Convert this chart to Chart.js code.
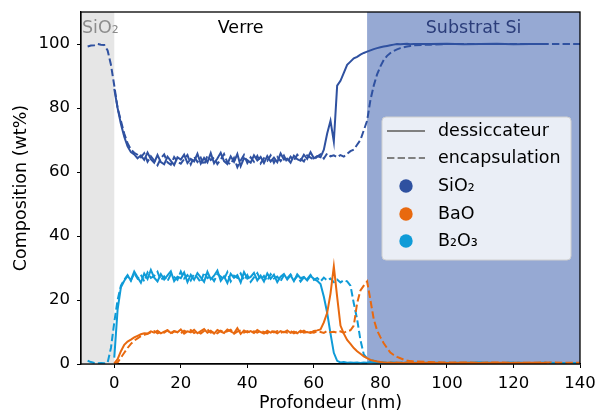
<!DOCTYPE html>
<html>
<head>
<meta charset="utf-8">
<script src="https://cdn.jsdelivr.net/npm/chart.js@4/dist/chart.umd.min.js"></script>
<style>
  body { margin: 0; background: #fff; }
</style>
</head>
<body>
<canvas id="graficoProfil" width="597" height="414"></canvas>
<script>
// profondeur (nm) : -8..90 pas de 1, puis 95..140 pas de 5
var profondeur = [];
for (var p = -8; p <= 90; p++) profondeur.push(p);
profondeur = profondeur.concat([95, 100, 105, 110, 115, 120, 125, 130, 135, 140]);

var sio2Dessiccateur = [
  null, null, null, null, null, null, null, null, 86, 80,
  75, 71, 68, 66.2, 65.5, 64.3, 65.2, 63.8, 66.1, 64.0,
  62.9, 65.3, 63.1, 62.4, 64.8, 63.5, 62.2, 64.6, 63.9, 65.4,
  62.8, 64.1, 63.3, 65.7, 62.6, 64.4, 63.0, 65.9, 62.7, 64.2,
  66.0, 63.4, 62.5, 64.9, 63.2, 65.6, 61.8, 64.3, 63.7, 62.9,
  65.2, 63.6, 64.7, 62.8, 65.0, 63.3, 64.5, 63.1, 65.8, 63.9,
  64.2, 62.9, 65.1, 64.0, 63.5, 65.4, 64.1, 66.2, 64.3, 65.0,
  64.6, 67, 72, 76, 69.5, 87, 88.5, 91, 93.5, 94.5,
  95.5, 96, 96.7, 97.2, 97.6, 98, 98.4, 98.7, 99, 99.2,
  99.4, 99.6, 99.8, 100, 99.9, 100, 100.1, 99.9, 100,
  100, 100.1, 99.9, 100, 100.1, 99.9, 100, 100, null, null
];
var sio2Encapsulation = [
  99.2, 99.5, 99.6, 100, 99.8, 99.7, 98, 93.5, 87, 80,
  76, 72, 69, 67, 66, 65.4, 64.6, 65.9, 63.2, 64.9,
  63.6, 62.1, 64.3, 65.5, 63.0, 62.3, 64.7, 63.2, 62.6, 64.0,
  65.3, 62.4, 64.8, 63.1, 64.5, 62.2, 65.1, 63.7, 64.6, 62.5,
  63.9, 65.6, 63.0, 62.4, 64.4, 61.5, 63.6, 65.3, 62.8, 64.6,
  63.2, 65.0, 62.7, 64.3, 63.5, 65.2, 62.9, 64.7, 63.4, 65.1,
  63.0, 64.8, 63.6, 65.4, 64.1, 63.3, 65.2, 64.5, 63.9, 64.8,
  65.5, 64.2, 65.8, 64.9, 65.2, 64.6, 65.3, 64.8, 65.7, 66.5,
  67.0, 68.5, 70, 73, 76, 82.5, 87, 90.5, 93, 95,
  96.3, 97.2, 97.8, 98.3, 98.7, 99, 99.2, 99.4, 99.6,
  99.8, 100, 100, 100, 100, 100, 100, 100, 100, 100
];
var baoDessiccateur = [
  null, null, null, null, null, null, null, null, 0.2, 1.5,
  4, 6, 7, 7.6, 8.3, 8.8, 9.3, 9.6, 9.5, 10.2,
  9.8, 10.4, 9.6, 10.1, 10.6, 9.7, 10.3, 9.9, 10.8, 9.5,
  10.2, 9.9, 10.7, 9.6, 10.3, 10.9, 9.8, 10.4, 9.5, 10.6,
  10.1, 9.7, 10.8, 10.2, 9.6, 11.2, 9.4, 10.5, 9.9, 10.3,
  9.7, 10.6, 10.0, 9.5, 10.4, 9.8, 10.2, 9.6, 10.3, 9.9,
  10.5, 9.7, 10.1, 9.6, 10.4, 9.8, 10.0, 9.7, 10.3, 10.5,
  10.8, 13, 16, 22, 30.5, 21, 12, 9.5, 7.5, 6.3,
  5, 4, 3.2, 2.4, 1.8, 1.3, 1.0, 0.8, 0.6, 0.5,
  0.4, 0.5, 0.3, 0.5, 0.4, 0.3, 0.5, 0.4, 0.3,
  0.4, 0.3, 0.4, 0.3, 0.4, 0.3, 0.4, 0.3, null, null
];
var baoEncapsulation = [
  null, null, null, null, null, null, null, null, 0, 0.5,
  2, 3.5, 5, 6.3, 7.3, 8, 8.7, 9.1, 9.4, 9.9,
  10.3, 9.6, 10.1, 9.8, 10.5, 9.4, 10.2, 10.0, 9.6, 10.4,
  9.9, 10.6, 9.7, 10.2, 9.5, 10.3, 10.8, 9.8, 10.1, 9.6,
  10.4, 9.9, 10.2, 10.7, 9.5, 10.1, 10.5, 9.8, 10.3, 9.7,
  10.2, 9.8, 10.4, 10.0, 9.6, 10.5, 9.9, 10.3, 9.7, 10.1,
  9.8, 10.3, 9.6, 10.2, 9.9, 10.4, 9.7, 10.0, 9.8, 10.2,
  10.0, 9.7, 10.3, 9.9, 10.1, 9.8, 10.2, 9.7, 10.4, 10.5,
  12, 19, 23, 24.5, 25.8, 20, 14, 10.5, 8.4, 6.5,
  5, 3.6, 2.8, 2.2, 1.8, 1.4, 1.1, 0.9, 0.8,
  0.6, 0.5, 0.5, 0.4, 0.5, 0.4, 0.4, 0.5, 0.4, 0.4
];
var b2o3Dessiccateur = [
  null, null, null, null, null, null, null, null, 2, 17,
  24, 26, 27.5, 26.2, 28.9, 27.1, 25.4, 28.3, 26.6, 29.4,
  27.0, 25.8, 28.1, 26.4, 27.7, 29.0, 25.9, 27.3, 26.8, 28.6,
  25.6, 27.9, 26.3, 28.4, 27.1, 25.7, 28.8, 26.5, 27.6, 29.2,
  26.0, 27.4, 25.3, 28.2, 26.9, 27.8, 25.5, 28.7, 26.7, 27.2,
  28.5, 26.1, 27.6, 25.8, 28.3, 26.6, 27.9, 25.6, 27.3, 28.1,
  26.4, 27.7, 25.9, 28.0, 26.8, 27.2, 26.1, 27.5, 26.6, 26.0,
  25, 21, 16, 9.5, 3.5, 1.0, 0.5, 0.6, 0.4, 0.5,
  0.4, 0.5, 0.3, 0.5, 0.4, 0.6, 0.4, 0.3, 0.5, 0.4,
  0.3, 0.4, 0.5, 0.3, 0.4, 0.3, 0.5, 0.4, 0.3,
  0.4, 0.3, 0.4, 0.5, 0.3, 0.4, 0.3, 0.4, null, null
];
var b2o3Encapsulation = [
  1.0, 0.6, 0.3, 0.2, 0.3, 0.2, 0.4, 5, 13, 20,
  24.5, 26.3, 27.8, 26.0, 28.4, 26.7, 27.9, 25.8, 28.6, 26.9,
  27.5, 28.8, 26.2, 27.4, 25.9, 28.0, 27.2, 26.3, 28.9, 26.7,
  27.8, 26.1, 28.2, 27.0, 25.5, 28.6, 26.8, 27.4, 25.9, 28.1,
  27.3, 26.5, 28.7, 25.8, 27.6, 26.9, 28.3, 26.2, 27.8, 25.7,
  27.1, 28.4, 26.3, 27.5, 26.0, 28.1, 26.7, 27.3, 25.9, 27.7,
  26.8, 28.0, 26.2, 27.4, 25.8, 27.1, 26.5, 27.8, 26.3, 26.9,
  25.8, 27.0, 26.1, 26.7, 25.6, 26.4, 25.5, 26.2, 25.8, 24.5,
  19, 14, 7.5, 3, 1.8, 1.2, 1.0, 0.8, 0.6, 0.5,
  0.4, 0.5, 0.3, 0.4, 0.5, 0.3, 0.4, 0.3, 0.4,
  0.3, 0.4, 0.3, 0.4, 0.3, 0.4, 0.3, 0.4, 0.3, 0.3
];

var xTicks = [0, 20, 40, 60, 80, 100, 120, 140];
var yTicks = [0, 20, 40, 60, 80, 100];
var limitesVerre = [0, 76];   // SiO2 | Verre | Substrat Si

var couleurSiO2 = '#2f51a0';
var couleurBaO = '#e8690f';
var couleurB2O3 = '#0f9bd7';
var tirets = [7.4, 3.2];
var policeTexte = '17.5px "DejaVu Sans"';

var serie = function(valeurs) {
  return valeurs.map(function(v, i) { return {x: profondeur[i], y: v}; });
};

var dataset = function(valeurs, couleur, pointille) {
  return {
    data: serie(valeurs),
    borderColor: couleur,
    borderWidth: 2,
    borderDash: pointille ? tirets : [],
    pointRadius: 0,
    tension: 0,
    spanGaps: false
  };
};

// zones colorees + etiquettes
var zonesPlugin = {
  id: 'zones',
  beforeDatasetsDraw: function(chart) {
    var ctx = chart.ctx, area = chart.chartArea, sx = chart.scales.x;
    var x0 = sx.getPixelForValue(limitesVerre[0]);
    var x1 = sx.getPixelForValue(limitesVerre[1]);
    ctx.save();
    ctx.fillStyle = '#e6e6e6';
    ctx.fillRect(area.left, area.top, x0 - area.left, area.bottom - area.top);
    ctx.fillStyle = '#96a9d3';
    ctx.fillRect(x1, area.top, area.right - x1, area.bottom - area.top);
    ctx.font = policeTexte;
    ctx.textBaseline = 'middle';
    var yEt = 28;
    ctx.fillStyle = '#8c8c8c';
    ctx.textAlign = 'left';
    ctx.fillText('SiO₂', area.left + 1, yEt);
    ctx.fillStyle = '#000';
    ctx.textAlign = 'center';
    ctx.fillText('Verre', (x0 + x1) / 2, yEt);
    ctx.fillStyle = '#2b3d7a';
    ctx.fillText('Substrat Si', (x1 + area.right) / 2, yEt);
    ctx.restore();
  },
  afterDraw: function(chart) {
    var ctx = chart.ctx, a = chart.chartArea;
    ctx.save();
    ctx.strokeStyle = '#000';
    ctx.lineWidth = 1.3;
    ctx.strokeRect(a.left, a.top, a.right - a.left, a.bottom - a.top);
    ctx.restore();
  }
};

var legendePlugin = {
  id: 'legende',
  afterDraw: function(chart) {
    var ctx = chart.ctx;
    var bx = 382, by = 117, bw = 189, bh = 143;
    ctx.save();
    ctx.beginPath();
    ctx.roundRect(bx, by, bw, bh, 4);
    ctx.fillStyle = 'rgba(255,255,255,0.8)';
    ctx.fill();
    ctx.strokeStyle = '#d0d0d0';
    ctx.lineWidth = 1;
    ctx.stroke();

    var entrees = [
      {texte: 'dessiccateur', y: 131, type: 'ligne', dash: []},
      {texte: 'encapsulation', y: 158, type: 'ligne', dash: tirets},
      {texte: 'SiO₂', y: 186, type: 'point', couleur: couleurSiO2},
      {texte: 'BaO', y: 214, type: 'point', couleur: couleurBaO},
      {texte: 'B₂O₃', y: 241, type: 'point', couleur: couleurB2O3}
    ];
    ctx.font = policeTexte;
    ctx.textBaseline = 'middle';
    ctx.textAlign = 'left';
    entrees.forEach(function(e) {
      if (e.type === 'ligne') {
        ctx.beginPath();
        ctx.setLineDash(e.dash);
        ctx.strokeStyle = '#808080';
        ctx.lineWidth = 2;
        ctx.moveTo(387, e.y);
        ctx.lineTo(425, e.y);
        ctx.stroke();
        ctx.setLineDash([]);
      } else {
        ctx.beginPath();
        ctx.fillStyle = e.couleur;
        ctx.arc(406, e.y, 6.7, 0, Math.PI * 2);
        ctx.fill();
      }
      ctx.fillStyle = '#000';
      ctx.fillText(e.texte, 438, e.y);
    });
    ctx.restore();
  }
};

Chart.defaults.font.family = '"DejaVu Sans"';
Chart.defaults.color = '#000';

var contexte = document.getElementById('graficoProfil');
var grafico = new Chart(contexte, {
  type: 'line',
  data: {
    datasets: [
      dataset(sio2Dessiccateur, couleurSiO2, false),
      dataset(sio2Encapsulation, couleurSiO2, true),
      dataset(baoDessiccateur, couleurBaO, false),
      dataset(baoEncapsulation, couleurBaO, true),
      dataset(b2o3Dessiccateur, couleurB2O3, false),
      dataset(b2o3Encapsulation, couleurB2O3, true)
    ]
  },
  options: {
    responsive: false,
    animation: false,
    layout: { padding: { left: 0, top: 12, right: 17, bottom: 0 } },
    plugins: {
      legend: { display: false },
      tooltip: { enabled: false }
    },
    scales: {
      x: {
        type: 'linear',
        min: -10,
        max: 140,
        afterBuildTicks: function(scale) {
          scale.ticks = xTicks.map(function(v) { return {value: v}; });
        },
        afterFit: function(scale) {
          scale.height = 50;
          scale.paddingLeft = 0;
          scale.paddingRight = 0;
        },
        grid: { drawOnChartArea: false, drawTicks: true, tickLength: 4, color: '#000', tickWidth: 1 },
        border: { display: true, color: '#000', width: 1.3 },
        ticks: { font: { size: 16.5 }, padding: 5.5, maxRotation: 0 },
        title: { display: true, text: 'Profondeur (nm)', font: { size: 17.5 }, padding: { top: 0, bottom: 0.5 } }
      },
      y: {
        type: 'linear',
        min: 0,
        max: 110,
        afterBuildTicks: function(scale) {
          scale.ticks = yTicks.map(function(v) { return {value: v}; });
        },
        afterFit: function(scale) {
          scale.width = 81;
          scale.paddingTop = 0;
          scale.paddingBottom = 0;
        },
        grid: { drawOnChartArea: false, drawTicks: true, tickLength: 4, color: '#000', tickWidth: 1 },
        border: { display: true, color: '#000', width: 1.3 },
        ticks: { font: { size: 16.5 }, padding: 7 },
        title: { display: true, text: 'Composition (wt%)', font: { size: 17.5 }, padding: { top: 11, bottom: 0 } }
      }
    }
  },
  plugins: [zonesPlugin, legendePlugin]
});
</script>
</body>
</html>
